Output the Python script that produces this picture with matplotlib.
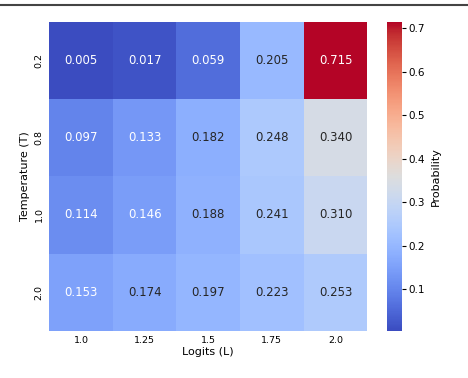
import numpy as np
import seaborn as sns
from matplotlib import pyplot as plt
from matplotlib.lines import Line2D

temps = ["0.2", "0.8", "1.0", "2.0"]
logits = ["1.0", "1.25", "1.5", "1.75", "2.0"]
probs = [
    [0.005, 0.017, 0.059, 0.205, 0.715],
    [0.097, 0.133, 0.182, 0.248, 0.340],
    [0.114, 0.146, 0.188, 0.241, 0.310],
    [0.153, 0.174, 0.197, 0.223, 0.253],
]

fig = plt.figure(figsize=(4.68, 3.78), dpi=100)
ax = fig.add_axes([0.105, 0.125, 0.68, 0.817])
cax = fig.add_axes([0.827, 0.125, 0.033, 0.817])

sns.heatmap(np.array(probs), annot=True, fmt=".3f", cmap="coolwarm",
            xticklabels=logits, yticklabels=temps, ax=ax, cbar_ax=cax,
            annot_kws={"fontsize": 8.5},
            cbar_kws={"label": "Probability"})

ax.set_xlabel("Logits (L)", fontsize=8, labelpad=1)
ax.set_ylabel("Temperature (T)", fontsize=8, labelpad=3)
ax.tick_params(axis="both", labelsize=6.8, length=0, pad=4)
plt.setp(ax.get_yticklabels(), rotation=90, va="center")
plt.setp(ax.get_xticklabels(), rotation=0)

cax.tick_params(labelsize=7.5, length=3, pad=1.5)
cax.yaxis.label.set_size(8)
cax.set_yticks([0.1, 0.2, 0.3, 0.4, 0.5, 0.6, 0.7])

# dark border line at the top of the screenshot
fig.add_artist(Line2D([0, 1], [0.988, 0.988], transform=fig.transFigure,
                      color="#444444", linewidth=1.5))

fig.savefig("out.png", dpi=100)
